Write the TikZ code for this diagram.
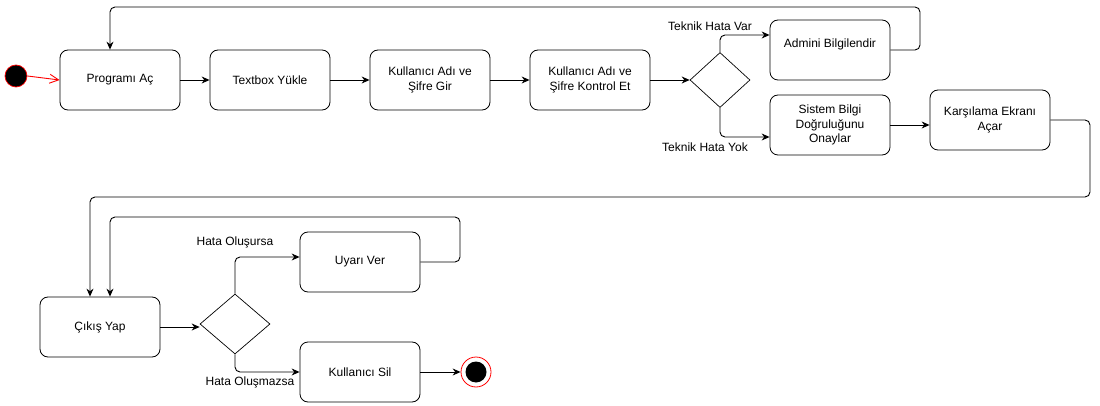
\documentclass[tikz,border=0pt]{standalone}
\usepackage{fontspec}
\setmainfont{Liberation Sans}
\usetikzlibrary{arrows.meta,shapes.geometric,calc}
\begin{document}
\begin{tikzpicture}[x=1pt,y=-1pt,
  box/.style={draw, rounded corners=8pt, minimum width=120pt, minimum height=60pt, align=center, font=\fontsize{12}{14.4}\selectfont, line width=0.8pt},
  dec/.style={draw, diamond, inner sep=0pt, line width=0.7pt},
  flow/.style={draw, line width=0.9pt, rounded corners=5pt, -{Stealth[length=8pt,width=7pt]}},
  lbl/.style={font=\fontsize{12}{14.4}\selectfont, inner sep=0pt}]
\useasboundingbox (0,0) rectangle (1100,406);
% nodes
\node[circle, fill=black, draw=red, line width=0.7pt, minimum size=22pt, inner sep=0pt] (s) at (16,76) {};
\node[box] (p) at (120,80) {Programı Aç};
\node[box] (t) at (270,80) {Textbox Yükle};
\node[box] (g) at (430,80) {Kullanıcı Adı ve\\Şifre Gir};
\node[box] (k) at (590,80) {Kullanıcı Adı ve\\Şifre Kontrol Et};
\node[dec, minimum width=60pt, minimum height=55pt] (d1) at (720,80) {};
\node[box, text height=8.6pt, text depth=12.6pt] (a) at (830,50) {Admini Bilgilendir};
\node[box] (sb) at (830,125) {Sistem Bilgi\\Doğruluğunu\\Onaylar};
\node[box] (ke) at (990,120) {Karşılama Ekranı\\Açar};
\node[box] (c) at (100,327) {Çıkış Yap};
\node[dec, minimum width=70pt, minimum height=60pt] (d2) at (235,324) {};
\node[box] (u) at (360,262) {Uyarı Ver};
\node[box] (ks) at (360,372) {Kullanıcı Sil};
\node[circle, draw=red, minimum size=30pt, inner sep=0pt, line width=0.8pt] (e) at (476,372) {};
\node[circle, fill=black, minimum size=21pt, inner sep=0pt] (ei) at (e) {};
% labels
\node[lbl] (l1) at (710,26) {Teknik Hata Var};
\node[lbl] (l2) at (705,147) {Teknik Hata Yok};
\node[lbl] (l3) at (235,242) {Hata Oluşursa};
\node[lbl] (l4) at (250,382) {Hata Oluşmazsa};
% corner coordinates
\coordinate (c1) at (920,7);
\coordinate (c2) at (1090,197);
\coordinate (c3) at (460,217);
% edges
\draw[red, line width=0.9pt, -{Straight Barb[length=9pt,width=9pt]}] (s.east) -- (p.west);
\draw[flow] (p.east) -- (t.west);
\draw[flow] (t.east) -- (g.west);
\draw[flow] (g.east) -- (k.west);
\draw[flow] (k.east) -- (d1.west);
\draw[flow] (d1.north) |- ([yshift=15pt]a.west);
\draw[flow] (d1.south) |- ([yshift=-12pt]sb.west);
\draw[flow] (a.east) -| (c1) -| ([xshift=-10pt]p.north);
\draw[flow] (sb.east) -- (sb.east -| ke.west);
\draw[flow] (ke.east) -| (c2) -| ([xshift=-10pt]c.north);
\draw[flow] (c.east) -- (c.east -| d2.west);
\draw[flow] (d2.north) |- ([yshift=5pt]u.west);
\draw[flow] (u.east) -| (c3) -| ([xshift=10pt]c.north);
\draw[flow] (d2.south) |- (ks.west);
\draw[flow] (ks.east) -- (e.west);
\end{tikzpicture}
\end{document}
